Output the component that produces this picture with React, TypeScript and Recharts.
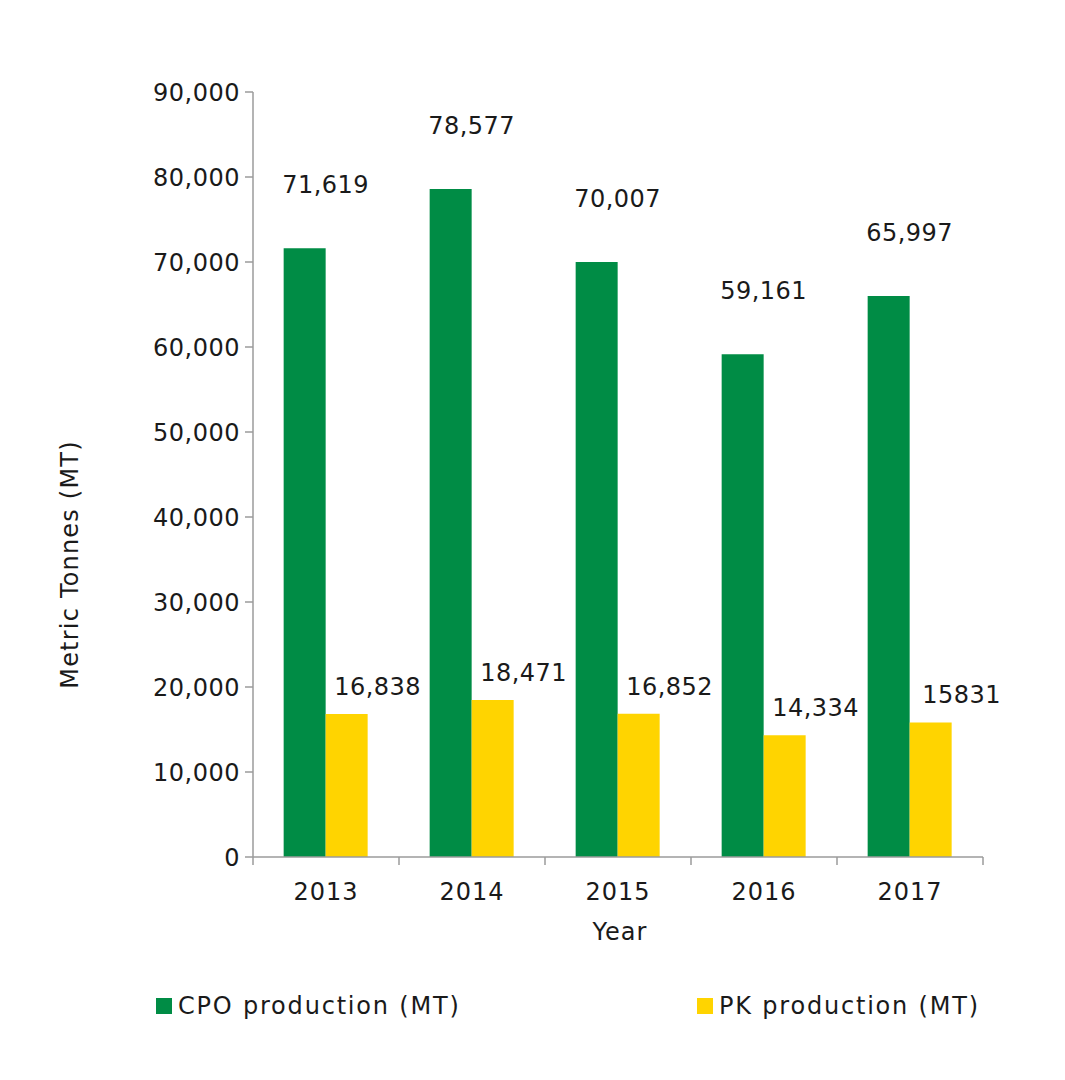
import React from 'react';
import { BarChart, Bar, XAxis, YAxis, LabelList, Legend, Label } from 'recharts';

const categories = ['2013', '2014', '2015', '2016', '2017'];
const cpoValues = [71619, 78577, 70007, 59161, 65997];
const pkValues = [16838, 18471, 16852, 14334, 15831];
const cpoLabels = ['71,619', '78,577', '70,007', '59,161', '65,997'];
const pkLabels = ['16,838', '18,471', '16,852', '14,334', '15831'];
const yTicks = [0, 10000, 20000, 30000, 40000, 50000, 60000, 70000, 80000, 90000];
const seriesNames = ['CPO production (MT)', 'PK production (MT)'];

const data = categories.map((year, i) => ({
  year,
  cpo: cpoValues[i],
  pk: pkValues[i],
  cpoLabel: cpoLabels[i],
  pkLabel: pkLabels[i],
}));

const FONT = "'DejaVu Sans', 'Noto Sans', sans-serif";
const TEXT = '#1a1a1a';
const AXIS = '#9b9b9b';
const GREEN = '#008c45';
const YELLOW = '#ffd400';

const W = 1050;
const H = 1064;
const MARGIN = { top: 84, right: 75, bottom: 75, left: 125 };
const Y_AXIS_W = 120;
const PLOT_W = W - MARGIN.left - Y_AXIS_W - MARGIN.right;
const BAND = PLOT_W / categories.length;

const fmt = (v: number) => v.toLocaleString('en-US');

const XTick = (props: any) => {
  const { x, y, payload, index } = props;
  const cx = Number(x);
  const cy = Number(y);
  const last = index === categories.length - 1;
  return (
    <g>
      <line x1={cx - BAND / 2} x2={cx - BAND / 2} y1={cy} y2={cy + 8} stroke={AXIS} strokeWidth={1.5} />
      {last && <line x1={cx + BAND / 2} x2={cx + BAND / 2} y1={cy} y2={cy + 8} stroke={AXIS} strokeWidth={1.5} />}
      <text x={cx} y={cy + 43} textAnchor="middle" fill={TEXT} fontFamily={FONT} fontSize={24} letterSpacing={1}>
        {payload.value}
      </text>
    </g>
  );
};

const CpoLabel = (props: any) => {
  const { x, y, width, value } = props;
  return (
    <text x={Number(x) + Number(width)} y={Number(y) - 55} textAnchor="middle" fill={TEXT} fontFamily={FONT} fontSize={24} letterSpacing={0.5}>
      {value}
    </text>
  );
};

const PkLabel = (props: any) => {
  const { x, y, width, value } = props;
  return (
    <text x={Number(x) + Number(width) / 2 + 31} y={Number(y) - 19} textAnchor="middle" fill={TEXT} fontFamily={FONT} fontSize={24} letterSpacing={0.5}>
      {value}
    </text>
  );
};

const YLabel = (props: any) => {
  const vb = props.viewBox || {};
  const bx = Number(vb.x) - 55;
  const cy = Number(vb.y) + Number(vb.height) / 2 + 90;
  return (
    <text x={bx} y={cy} transform={`rotate(-90 ${bx} ${cy})`} textAnchor="middle" fill={TEXT} fontFamily={FONT} fontSize={24} letterSpacing={1.2}>
      Metric Tonnes (MT)
    </text>
  );
};

const XLabel = (props: any) => {
  const vb = props.viewBox || {};
  const cx = Number(vb.x) + Number(vb.width) / 2 + 2;
  const yy = Number(vb.y) + 83;
  return (
    <text x={cx} y={yy} textAnchor="middle" fill={TEXT} fontFamily={FONT} fontSize={24} letterSpacing={1}>
      Year
    </text>
  );
};

const LegendContent = () => {
  const items = [
    { name: seriesNames[0], color: GREEN, left: 148 },
    { name: seriesNames[1], color: YELLOW, left: 689 },
  ];
  return (
    <div style={{ position: 'relative', width: W, height: 40 }}>
      {items.map((it) => (
        <div key={it.name} style={{ position: 'absolute', left: it.left, top: 0, height: 40, display: 'flex', alignItems: 'center' }}>
          <span style={{ display: 'inline-block', width: 16, height: 16, background: it.color, marginRight: 6 }} />
          <span style={{ fontFamily: FONT, fontSize: 24, color: TEXT, letterSpacing: 1.8, lineHeight: '40px', whiteSpace: 'nowrap' }}>{it.name}</span>
        </div>
      ))}
    </div>
  );
};

export default function App() {
  return (
    <div style={{ width: W, height: H, background: '#fff' }}>
      <BarChart width={W} height={H} data={data} margin={MARGIN} barCategoryGap="21%" barGap={0}>
        <XAxis
          dataKey="year"
          height={100}
          axisLine={{ stroke: AXIS, strokeWidth: 1.5 }}
          tickLine={false}
          tickSize={0}
          tickMargin={0}
          tick={<XTick />}
          interval={0}
        >
          <Label content={<XLabel />} />
        </XAxis>
        <YAxis
          width={Y_AXIS_W}
          domain={[0, 90000]}
          ticks={yTicks}
          interval={0}
          tickFormatter={fmt}
          axisLine={{ stroke: AXIS, strokeWidth: 1.5 }}
          tickLine={{ stroke: AXIS, strokeWidth: 1.5 }}
          tickSize={8}
          tickMargin={5}
          tick={{ fill: TEXT, fontFamily: FONT, fontSize: 24, letterSpacing: 0.5 }}
        >
          <Label content={<YLabel />} />
        </YAxis>
        <Legend
          verticalAlign="bottom"
          content={<LegendContent />}
          wrapperStyle={{ top: 978, left: 0, width: W, height: 40 }}
        />
        <Bar dataKey="cpo" name={seriesNames[0]} fill={GREEN} isAnimationActive={false}>
          <LabelList dataKey="cpoLabel" content={<CpoLabel />} />
        </Bar>
        <Bar dataKey="pk" name={seriesNames[1]} fill={YELLOW} isAnimationActive={false}>
          <LabelList dataKey="pkLabel" content={<PkLabel />} />
        </Bar>
      </BarChart>
    </div>
  );
}
